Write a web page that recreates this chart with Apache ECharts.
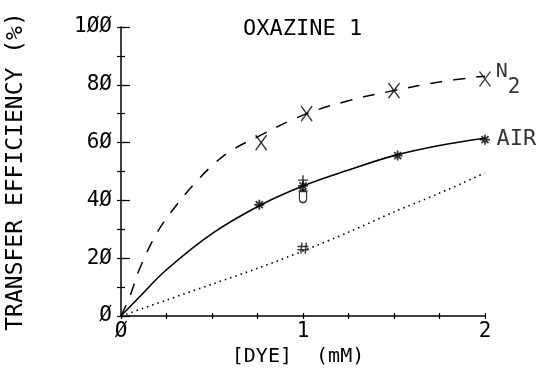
<!DOCTYPE html>
<html>
<head>
<meta charset="utf-8">
<script src="https://cdn.jsdelivr.net/npm/echarts@6/dist/echarts.min.js"></script>
<style>
  html, body { margin: 0; padding: 0; background: #fff; }
  #chart { width: 541px; height: 376px; }
</style>
</head>
<body>
<div id="chart"></div>
<script>
  // curves
  const n2X = [0, 0.05, 0.1, 0.2, 0.3, 0.4, 0.5, 0.6, 0.75, 1.0, 1.25, 1.5, 1.75, 2.0]
  const n2Y = [0, 7, 16, 29, 38, 45.5, 52, 57, 62, 69.5, 74.5, 78, 81, 83]
  const airX = [0, 0.1, 0.25, 0.5, 0.77, 1.0, 1.25, 1.5, 1.75, 2.0]
  const airY = [0, 6.5, 16, 28.5, 38.5, 45, 50.5, 55.5, 59, 61.5]
  const dotX = [0, 0.25, 0.5, 0.75, 1.0, 1.25, 1.5, 1.75, 2.0]
  const dotY = [0, 5.5, 11, 16.5, 22.5, 29, 36, 42.5, 49.5]

  // measured points
  const n2PtsX = [0.77, 1.02, 1.5, 2.0]
  const n2PtsY = [60, 70, 78, 82]
  const airPtsX = [0.76, 1.0, 1.52, 2.0]
  const airPtsY = [38.5, 45, 55.5, 61]
  const plusPt = [1.0, 47]
  const ohPt = [1.0, 41.5]
  const hashPt = [1.0, 23.5]

  const yTicks = [0, 20, 40, 60, 80, 100]
  const xTicks = [0, 1, 2]

  const FONT = 'DejaVu Sans Mono'
  const INK = '#000'

  const pairs = (xs, ys) => xs.map((x, i) => [x, ys[i]])
  const slashed = s => String(s).replace(/0/g, 'Ø')

  const symX = 'path://M0,0L10,14M10,0L0,14'
  const symStar = 'path://M5,0L5,10M0,5L10,5M1.5,1.5L8.5,8.5M8.5,1.5L1.5,8.5'
  const symPlus = 'path://M5,0L5,10M0,5L10,5'
  const symHash = 'path://M4,0L3,10M8,0L7,10M0,3.5L10,3.5M0,6.5L10,6.5'
  const symOh = 'path://M1,4Q1,0 5,0Q9,0 9,4L9,10Q9,14 5,14Q1,14 1,10ZM0,2L10,2'

  const strokeMark = {color: 'none', borderColor: INK, borderWidth: 1.4}

  const n2Marks = pairs(n2PtsX, n2PtsY).map((p, i, a) => {
    if (i < a.length - 1) return p
    return {
      value: p,
      label: {
        show: true, position: 'right', distance: 3,
        formatter: '{n|N}{s|2}',
        rich: {
          n: {fontFamily: FONT, fontSize: 20, color: INK, padding: [0, 0, 14, 0]},
          s: {fontFamily: FONT, fontSize: 21, color: INK, padding: [17, 0, 0, 0]}
        }
      }
    }
  })
  const airMarks = pairs(airPtsX, airPtsY).map((p, i, a) => {
    if (i < a.length - 1) return p
    return {
      value: p,
      label: {show: true, position: 'right', distance: 4, formatter: 'AIR',
        fontFamily: FONT, fontSize: 22, color: INK}
    }
  })

  const chart = echarts.init(document.getElementById('chart'))

  const xBase = {
    type: 'value', min: 0, max: 2, interval: 0.25,
    position: 'bottom', splitLine: {show: false}
  }
  const yBase = {
    type: 'value', min: 0, max: 100, interval: 10,
    position: 'left', splitLine: {show: false}
  }
  const tickStyle = {color: INK, width: 1.2}

  chart.setOption({
    animation: false,
    title: {
      text: 'OXAZINE 1', left: 238, top: 13,
      textStyle: {fontFamily: FONT, fontSize: 22, fontWeight: 'normal', color: INK}
    },
    grid: {left: 121, right: 56, top: 27, bottom: 60, outerBoundsMode: 'none', containLabel: false},
    xAxis: [
      Object.assign({}, xBase, {
        name: '[DYE]  (mM)', nameLocation: 'middle', nameGap: 26,
        nameTextStyle: {fontFamily: FONT, fontSize: 20, color: INK, padding: [0, 10, 0, 0]},
        axisLine: {show: true, lineStyle: {color: INK, width: 1.5}},
        axisTick: {show: true, inside: false, length: 3, lineStyle: tickStyle},
        axisLabel: {
          margin: 5, fontFamily: FONT, fontSize: 21, color: INK,
          formatter: v => xTicks.includes(v) ? slashed(v) : ''
        }
      }),
      Object.assign({}, xBase, {
        axisLine: {show: false},
        axisTick: {show: true, inside: true, length: 3, lineStyle: tickStyle},
        axisLabel: {show: false}
      })
    ],
    yAxis: [
      Object.assign({}, yBase, {
        name: 'TRANSFER EFFICIENCY (%)', nameLocation: 'middle', nameRotate: 90, nameGap: 93,
        nameTextStyle: {fontFamily: FONT, fontSize: 23, color: INK},
        axisLine: {show: true, lineStyle: {color: INK, width: 1.5}},
        axisTick: {show: true, inside: false, length: 4, lineStyle: tickStyle},
        axisLabel: {
          margin: 9, fontFamily: FONT, fontSize: 21, color: INK,
          formatter: v => yTicks.includes(v) ? slashed(v) : ''
        }
      }),
      Object.assign({}, yBase, {
        axisLine: {show: false},
        axisTick: {show: true, inside: true, length: 4, lineStyle: tickStyle},
        axisLabel: {show: false}
      }),
      Object.assign({}, yBase, {
        interval: 20,
        axisLine: {show: false},
        axisTick: {show: true, inside: true, length: 9, lineStyle: tickStyle},
        axisLabel: {show: false}
      })
    ],
    series: [
      {
        type: 'line', smooth: 0.4, symbol: 'none', data: pairs(n2X, n2Y),
        lineStyle: {color: INK, width: 1.5, type: [12, 11]}
      },
      {
        type: 'line', smooth: 0.4, symbol: 'none', data: pairs(airX, airY),
        lineStyle: {color: INK, width: 1.6}
      },
      {
        type: 'line', smooth: 0.3, symbol: 'none', data: pairs(dotX, dotY),
        lineStyle: {color: INK, width: 1.6, type: [1.5, 4]}
      },
      {
        type: 'scatter', symbol: symX, symbolSize: [11, 15], data: n2Marks,
        itemStyle: strokeMark
      },
      {
        type: 'scatter', symbol: symStar, symbolSize: 10, data: airMarks,
        itemStyle: {color: 'none', borderColor: INK, borderWidth: 1.8}
      },
      {
        type: 'scatter', symbol: symPlus, symbolSize: 10, data: [plusPt],
        itemStyle: strokeMark
      },
      {
        type: 'scatter', symbol: symOh, symbolSize: [9, 13], data: [ohPt],
        itemStyle: strokeMark
      },
      {
        type: 'scatter', symbol: symHash, symbolSize: 11, data: [hashPt],
        itemStyle: strokeMark
      }
    ]
  })
</script>
</body>
</html>
